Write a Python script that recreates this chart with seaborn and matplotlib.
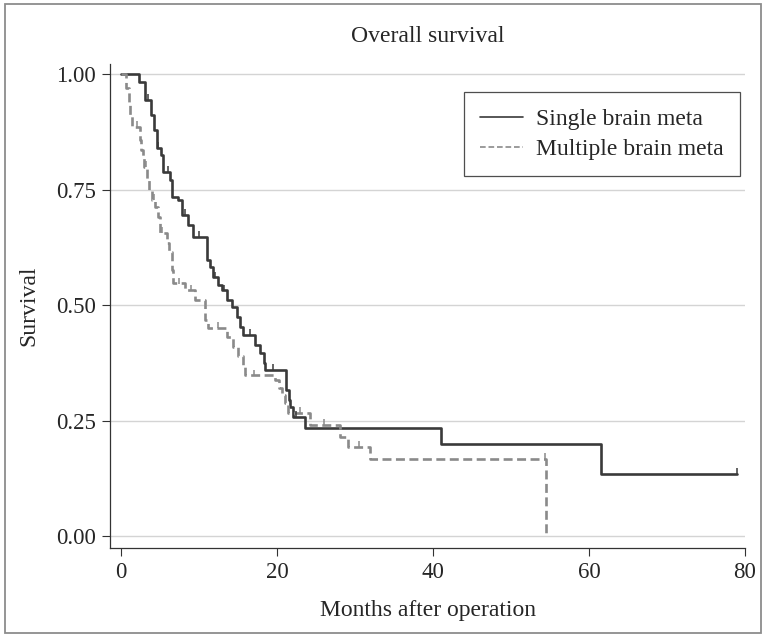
import numpy as np
import pandas as pd
import seaborn as sns
import matplotlib.pyplot as plt
from matplotlib.patches import Rectangle

# Kaplan-Meier steps (months, survival after drop)
single_t = [0, 2.35, 3.1, 3.9, 4.2, 4.6, 5.2, 5.4, 6.3, 6.5, 7.3, 7.8, 8.6, 9.2,
            11.0, 11.4, 11.8, 12.4, 12.9, 13.6, 14.2, 14.9, 15.3, 15.7, 17.2, 17.8,
            18.3, 18.5, 21.2, 21.5, 21.7, 22.1, 23.6, 41.0, 61.5, 79.0]
single_s = [1.0, 0.983, 0.944, 0.911, 0.879, 0.84, 0.825, 0.788, 0.771, 0.734, 0.727,
            0.695, 0.673, 0.648, 0.597, 0.583, 0.56, 0.543, 0.532, 0.51, 0.496, 0.474,
            0.453, 0.435, 0.413, 0.396, 0.374, 0.359, 0.316, 0.294, 0.28, 0.258, 0.234,
            0.199, 0.134, 0.134]

multi_t = [0, 0.7, 1.0, 1.2, 1.4, 2.4, 2.6, 2.8, 3.0, 3.3, 3.6, 4.0, 4.4, 4.7, 5.0,
           5.9, 6.2, 6.5, 6.6, 6.7, 8.2, 9.5, 10.8, 11.1, 13.6, 14.4, 15.0, 15.6,
           15.9, 19.7, 20.2, 20.6, 21.0, 21.4, 24.2, 28.1, 29.1, 31.9, 54.5]
multi_s = [1.0, 0.97, 0.94, 0.91, 0.886, 0.857, 0.835, 0.82, 0.80, 0.77, 0.749, 0.727,
           0.712, 0.69, 0.656, 0.634, 0.615, 0.597, 0.576, 0.547, 0.532, 0.511, 0.468,
           0.45, 0.431, 0.41, 0.39, 0.366, 0.348, 0.338, 0.32, 0.305, 0.288, 0.266,
           0.24, 0.214, 0.193, 0.167, 0.0]

# censored observations (tick marks on the curves)
single_cens = [3.5, 4.8, 6.0, 8.2, 10.0, 12.0, 13.2, 16.5, 19.5, 22.5, 79.0]
multi_cens = [2.0, 3.2, 4.2, 5.3, 7.5, 9.0, 12.5, 17.0, 23.0, 26.0, 30.5, 54.4]

groups = ['Single brain meta', 'Multiple brain meta']
colors = {'Single brain meta': '#3a3a3a', 'Multiple brain meta': '#8a8a8a'}

df = pd.concat([
    pd.DataFrame({'time': single_t, 'surv': single_s, 'group': groups[0]}),
    pd.DataFrame({'time': multi_t, 'surv': multi_s, 'group': groups[1]}),
])

def step_value(t, times, surv):
    i = np.searchsorted(times, t, side='right') - 1
    return np.array(surv)[i]

sns.set_style('white')
plt.rcParams['font.family'] = ['Liberation Serif', 'DejaVu Serif']

fig = plt.figure(figsize=(7.66, 6.39), dpi=100)
ax = fig.add_axes([0.1436, 0.1424, 0.829, 0.7574])

sns.lineplot(data=df, x='time', y='surv', hue='group', style='group',
             hue_order=groups, style_order=groups, palette=colors,
             dashes={groups[0]: '', groups[1]: (3.4, 1.7)},
             drawstyle='steps-post', estimator=None, sort=False,
             linewidth=1.9, ax=ax)

# censoring ticks
for cens, times, surv, g in [(single_cens, single_t, single_s, groups[0]),
                             (multi_cens, multi_t, multi_s, groups[1])]:
    yv = step_value(np.array(cens), times, surv)
    ax.plot(cens, yv + 0.006, linestyle='none', marker='|', markersize=5,
            markeredgewidth=1.1, color=colors[g])

ax.set_xlim(-1.4, 80.0)
ax.set_ylim(-0.026, 1.022)
ax.set_xticks([0, 20, 40, 60, 80])
ax.set_yticks([0, 0.25, 0.5, 0.75, 1.0])
ax.set_yticklabels(['0.00', '0.25', '0.50', '0.75', '1.00'])
ax.yaxis.grid(True, color='#d4d4d4', linewidth=1.0)
ax.xaxis.grid(False)
ax.tick_params(axis='both', labelsize=16.5, length=6, width=0.8, color='#333333',
               direction='out', left=True, bottom=True, pad=4)
for side in ['top', 'right']:
    ax.spines[side].set_visible(False)
for side in ['left', 'bottom']:
    ax.spines[side].set_color('#333333')
    ax.spines[side].set_linewidth(0.9)

ax.set_xlabel('Months after operation', fontsize=17, labelpad=12)
ax.set_ylabel('Survival', fontsize=17, labelpad=12)
fig.text(0.558, 0.943, 'Overall survival', fontsize=17, ha='center', va='center')

leg = ax.legend(loc='upper right', bbox_to_anchor=(0.992, 0.942), borderaxespad=0,
                fontsize=17, frameon=True, fancybox=False, handlelength=1.8,
                handletextpad=0.55, borderpad=0.7, labelspacing=0.35, title=None)
leg.get_frame().set_edgecolor('#222222')
leg.get_frame().set_linewidth(0.9)
for line in leg.get_lines():
    line.set_linewidth(1.2)

fig.patches.append(Rectangle((0.006, 0.009), 0.988, 0.984, transform=fig.transFigure,
                             fill=False, edgecolor='#8c8c8c', linewidth=1.3))

fig.savefig('out.png', dpi=100, facecolor='white')
